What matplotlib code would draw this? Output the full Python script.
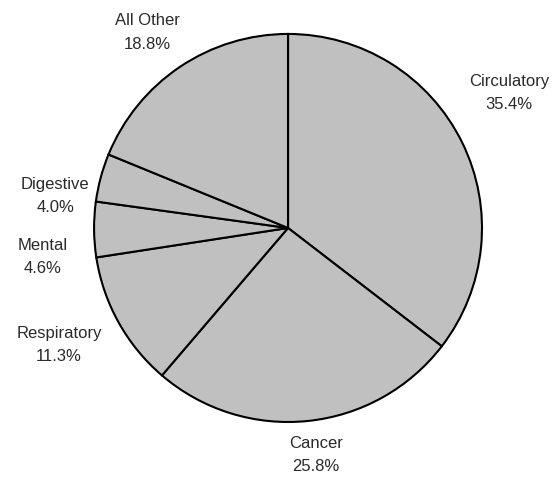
import numpy as np
import matplotlib.pyplot as plt

# causes of death, share of total (%)
categories = ['Circulatory', 'Cancer', 'Respiratory', 'Mental', 'Digestive', 'All Other']
shares = [35.4, 25.8, 11.3, 4.6, 4.0, 18.8]
pct_labels = ['35.4%', '25.8%', '11.3%', '4.6%', '4.0%', '18.8%']

# label placement: distance (in radii) and angle (deg) from pie centre
label_dist = [1.335, 1.18, 1.326, 1.272, 1.212, 1.24]
label_angle = [31.4, -83.0, 207.1, 186.75, 172.2, 125.7]

fig = plt.figure(figsize=(5.59, 4.8), dpi=100)
ax = fig.add_axes([0, 0, 1, 1])

wedges, _ = ax.pie(shares, startangle=90, counterclock=False,
                   colors=['#c0c0c0'] * len(shares),
                   wedgeprops=dict(edgecolor='black', linewidth=1.5))

for name, pct, d, a in zip(categories, pct_labels, label_dist, label_angle):
    t = np.deg2rad(a)
    ax.text(d * np.cos(t), d * np.sin(t), f'{name}\n{pct}',
            ha='center', va='center', fontsize=12, color='#2a2a2a',
            family='Liberation Sans', linespacing=1.7)

ax.set_xlim(-1.485, 1.397)
ax.set_ylim(-1.299, 1.175)
ax.set_aspect('auto')
ax.axis('off')

fig.savefig('out.png', dpi=100)
